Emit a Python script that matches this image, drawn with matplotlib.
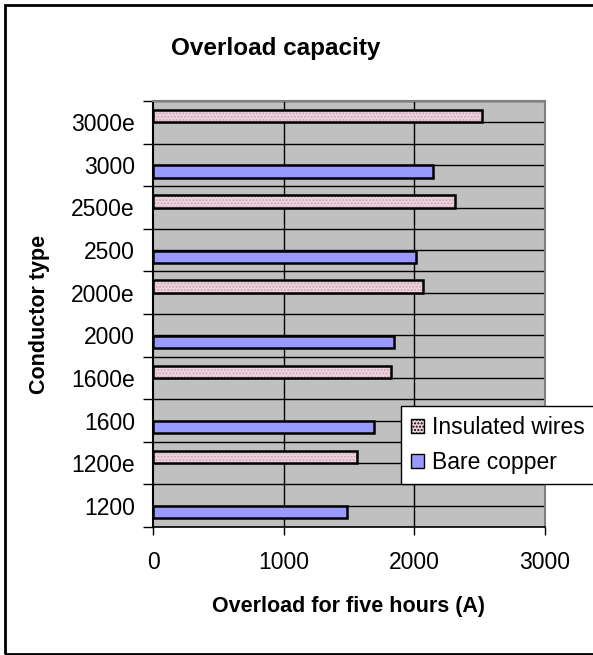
import numpy as np
import matplotlib
matplotlib.use("Agg")
import matplotlib.pyplot as plt
from matplotlib.patches import Rectangle, Patch

plt.rcParams['font.family'] = ['Liberation Sans', 'DejaVu Sans']

# data
categories = ['1200', '1200e', '1600', '1600e', '2000', '2000e', '2500', '2500e', '3000', '3000e']
bare_copper = [1483, 0, 1690, 0, 1848, 0, 2009, 0, 2141, 0]
insulated = [0, 1558, 0, 1820, 0, 2068, 0, 2315, 0, 2518]
xticks = [0, 1000, 2000, 3000]

pink = '#efd3de'
pink_dots = '#c9a9b8'
blue = '#9999ff'
grey_bg = '#c0c0c0'

fig = plt.figure(figsize=(5.93, 6.55), dpi=100)
ax = fig.add_axes([153/593, 1-527/655, 392/593, 426/655])
ax.set_facecolor(grey_bg)

y = np.arange(len(categories))
h = 0.29
bc = np.array(bare_copper, dtype=float)
ins = np.array(insulated, dtype=float)
mb = bc > 0
mi = ins > 0

# grid lines at category edges and centres
for v in np.arange(-0.5, len(categories), 0.5):
	ax.axhline(v, color='black', lw=1, zorder=1)
for v in xticks[1:-1]:
	ax.axvline(v, color='black', lw=1, zorder=1)

ax.barh(y[mb] - 0.155, bc[mb], height=h, color=blue, edgecolor='black', lw=1.8, zorder=3)
# dotted fill first, then black outline
ax.barh(y[mi] + 0.145, ins[mi], height=h, color=pink, edgecolor=pink_dots, hatch='.....', lw=0, zorder=3)
ax.barh(y[mi] + 0.145, ins[mi], height=h, fill=False, edgecolor='black', lw=1.8, zorder=4)

ax.set_xlim(0, 3000)
ax.set_ylim(-0.5, len(categories) - 0.5)

ax.set_xticks(xticks)
ax.set_xticklabels([str(t) for t in xticks], fontsize=16.5)
ax.tick_params(axis='x', direction='out', length=6, width=1, pad=11)

ax.set_yticks(np.arange(-0.5, len(categories), 1.0))
ax.set_yticklabels([])
ax.set_yticks(y, minor=True)
ax.set_yticklabels(categories, minor=True, fontsize=16.5)
ax.tick_params(axis='y', which='major', direction='out', length=7, width=1)
ax.tick_params(axis='y', which='minor', length=0, pad=13)

for s in ['top', 'right']:
	ax.spines[s].set_color('#808080')
	ax.spines[s].set_linewidth(1.5)
ax.spines['left'].set_linewidth(1.5)
ax.spines['bottom'].set_linewidth(1.2)

ax.set_xlabel('Overload for five hours (A)', fontsize=15.5, fontweight='bold', labelpad=16)
ax.set_ylabel('Conductor type', fontsize=15.5, fontweight='bold')
ax.yaxis.set_label_coords(-0.262, 0.5, transform=ax.transAxes)

fig.text(276/593, 1-48/655, 'Overload capacity', ha='center', va='center',
	fontsize=17.5, fontweight='bold')

handles = [Patch(facecolor=pink, edgecolor='black', hatch='.....', lw=1),
	Patch(facecolor=blue, edgecolor='black', lw=1)]
leg = fig.legend(handles, ['Insulated wires', 'Bare copper'], loc='upper left',
	bbox_to_anchor=(401/593, 1-406/655), fontsize=16.5, frameon=True, fancybox=False,
	framealpha=1, edgecolor='black', handlelength=0.55, handleheight=0.55,
	handletextpad=0.35, labelspacing=0.5, borderpad=0.45, borderaxespad=0)
leg.get_frame().set_linewidth(1)

# outer chart border
fig.patches.append(Rectangle((5/593, 1/655), 1.2, 649/655, transform=fig.transFigure,
	fill=False, edgecolor='black', lw=2))

fig.savefig('out.png', dpi=100)
